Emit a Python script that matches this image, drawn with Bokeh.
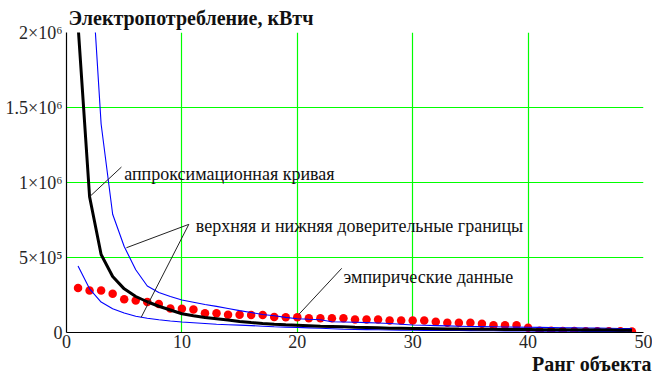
from bokeh.plotting import figure
from bokeh.models import Range1d, FixedTicker, Title
from bokeh.core.properties import value
from bokeh.embed import file_html
from bokeh.resources import INLINE

# ---- data -------------------------------------------------------------
rank = list(range(1, 50))

empirical = [296000, 280000, 280000, 258000, 222000, 213000, 203000, 190000, 160000, 158000,
             154000, 128000, 128000, 118000, 118000, 116000, 116000, 104000, 101000, 101000,
             95000, 95000, 95000, 95000, 87000, 87000, 87000, 80000, 80000, 80000,
             80000, 72000, 65000, 65000, 65000, 59000, 48000, 48000, 48000, 32000,
             12000, 11000, 10000, 10000, 9000, 9000, 8000, 8000, 7000]

approx = [2050000, 905000, 520000, 373000, 291000, 240000, 205000, 175000, 150000, 125000,
          112000, 100000, 92000, 84000, 74000, 66000, 60000, 55000, 51000, 48000,
          45000, 42000, 40000, 38000, 35000, 33000, 31000, 29000, 28000, 27000,
          26000, 25000, 24000, 23000, 22500, 22000, 21000, 20500, 20000, 19500,
          19000, 18500, 18000, 17500, 17000, 16500, 16000, 15500, 15000]

upper = [3900000, 2620000, 1390000, 788000, 573000, 418000, 310000, 266000, 240000, 217000,
         202000, 187000, 174000, 160000, 146000, 133000, 120000, 112000, 101000, 92000,
         88000, 85000, 72000, 70000, 68000, 66000, 63000, 60000, 55000, 50000,
         48000, 46000, 44000, 42000, 40000, 39000, 38000, 37000, 36000, 35000,
         34000, 33000, 32000, 31000, 30000, 29000, 28000, 27000, 26000]

lower = [443000, 291000, 203000, 158000, 130000, 108000, 95000, 85000, 77000, 70000,
         65000, 60000, 55000, 52000, 49000, 46000, 42000, 38000, 36000, 34000,
         31000, 28000, 25000, 22000, 20000, 19000, 18000, 17000, 16000, 15000,
         14500, 14000, 13500, 13000, 12500, 12000, 11500, 11000, 10500, 10000,
         9500, 9000, 8500, 8000, 7500, 7000, 6500, 6000, 5500]

x_ticks = [0, 10, 20, 30, 40, 50]
y_ticks = [0, 500000, 1000000, 1500000, 2000000]
y_tick_labels = ["0", "5×10⁵", "1×10⁶", "1.5×10⁶", "2×10⁶"]
x_grid = [10, 20, 30, 40]
y_grid = [500000, 1000000, 1500000]

title_text = "Электропотребление, кВтч"
xlabel_text = "Ранг объекта"
lbl_approx = "аппроксимационная кривая"
lbl_bounds = "верхняя и нижняя доверительные границы"
lbl_emp = "эмпирические данные"

FONT = "'Liberation Serif'"

# ---- figure -----------------------------------------------------------
p = figure(width=652, height=374, output_backend="svg", toolbar_location=None,
           x_range=Range1d(0, 50), y_range=Range1d(0, 2000000),
           min_border_left=66, min_border_right=9, min_border_top=31, min_border_bottom=42)
p.outline_line_color = None
p.background_fill_color = "white"
p.border_fill_color = "white"

p.title.text = title_text
p.title.align = "left"
p.title.offset = 2
p.title.standoff = 8
p.title.text_font = FONT
p.title.text_font_size = "20px"
p.title.text_font_style = "bold"
p.title.text_color = "#111111"

for ax, ticks in ((p.xaxis[0], x_ticks), (p.yaxis[0], y_ticks)):
    ax.ticker = FixedTicker(ticks=ticks)
    ax.major_tick_line_color = None
    ax.minor_tick_line_color = None
    ax.major_tick_out = 0
    ax.major_tick_in = 0
    ax.axis_line_color = "black"
    ax.axis_line_width = 1.2
    ax.major_label_text_font = FONT
    ax.major_label_text_font_size = "18px"
    ax.major_label_text_color = "#262626"

p.yaxis[0].major_label_overrides = {t: s for t, s in zip(y_ticks, y_tick_labels)}
p.yaxis[0].major_label_standoff = 4
p.xaxis[0].major_label_standoff = 2

xt = Title(text=xlabel_text, align="right", text_font=FONT, text_font_size="20px",
           text_font_style="bold", text_color="#111111", standoff=0, offset=-8)
p.add_layout(xt, "below")

p.xgrid[0].ticker = FixedTicker(ticks=x_grid)
p.ygrid[0].ticker = FixedTicker(ticks=y_grid)
for g in (p.xgrid[0], p.ygrid[0]):
    g.grid_line_color = "#00ff00"
    g.grid_line_width = 1.2

# ---- data marks -------------------------------------------------------
p.scatter(rank, empirical, size=8.5, color="#ff0000", line_color=None)
p.line(rank, upper, color="#0000ff", line_width=1.1)
p.line(rank, lower, color="#0000ff", line_width=1.1)
p.line(rank, approx, color="black", line_width=3)

# ---- leader lines -----------------------------------------------------
leader_x0 = [2.0, 10.6, 10.6, 23.85]
leader_y0 = [approx[1], 721000, 721000, 428000]
leader_x1 = [4.76, 5.19, 6.47, 20.15]
leader_y1 = [1103000, 565000, 101000, 122000]
p.segment(leader_x0, leader_y0, leader_x1, leader_y1, color="#222222", line_width=1)

# ---- annotation texts -------------------------------------------------
p.text(x=[5.0, 11.2, 24.0], y=[1054000, 709000, 373000],
       text=[lbl_approx, lbl_bounds, lbl_emp],
       text_font=value(FONT), text_font_size="18px", text_color="#111111",
       text_align="left", text_baseline="alphabetic")

open("out.html", "w").write(file_html(p, INLINE))
